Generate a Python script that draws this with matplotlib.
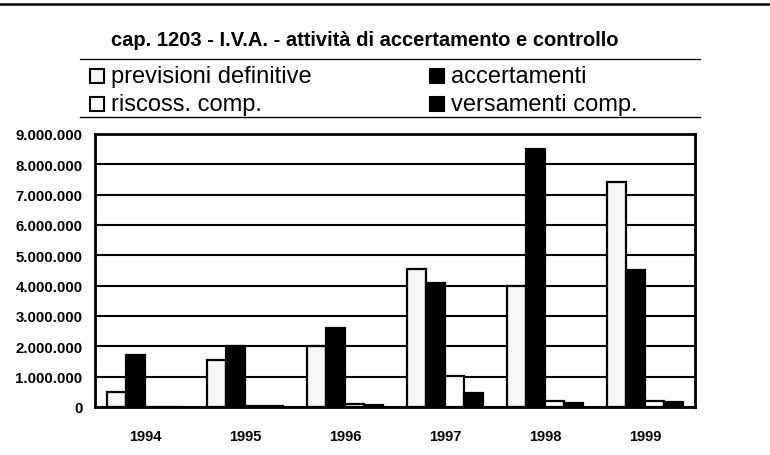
import matplotlib
matplotlib.use("Agg")
import matplotlib.pyplot as plt
from matplotlib.patches import Rectangle
from matplotlib.lines import Line2D
import numpy as np

plt.rcParams['font.family'] = ['Liberation Sans', 'DejaVu Sans']

# Data (values in lire/thousands, read as plain numbers)
years = ['1994', '1995', '1996', '1997', '1998', '1999']
previsioni_definitive = [500000, 1560000, 2000000, 4550000, 4000000, 7430000]
accertamenti = [1700000, 2020000, 2590000, 4080000, 8500000, 4530000]
riscoss_comp = [10000, 30000, 100000, 1030000, 200000, 200000]
versamenti_comp = [10000, 20000, 50000, 450000, 120000, 170000]

y_ticks = [0, 1000000, 2000000, 3000000, 4000000, 5000000, 6000000, 7000000, 8000000, 9000000]
y_tick_labels = ['0', '1.000.000', '2.000.000', '3.000.000', '4.000.000',
                 '5.000.000', '6.000.000', '7.000.000', '8.000.000', '9.000.000']

title = 'cap. 1203 - I.V.A. - attività di accertamento e controllo'
series_names = ['previsioni definitive', 'accertamenti', 'riscoss. comp.', 'versamenti comp.']

W, H = 770, 456
fig = plt.figure(figsize=(W / 100, H / 100), dpi=100)
fig.patch.set_facecolor('white')

ax = fig.add_axes([95 / W, (H - 408) / H, 600 / W, 273 / H])
ax.set_xlim(-0.5, len(years) - 0.5)
ax.set_ylim(0, 9000000)

x = np.arange(len(years))
w = 0.19
series = [previsioni_definitive, accertamenti, riscoss_comp, versamenti_comp]
faces = ['#f7f7f7', 'black', 'white', 'black']
offsets = [-1.5, -0.5, 0.5, 1.5]

for vals, fc, off in zip(series, faces, offsets):
    ax.bar(x + off * w, vals, width=w, color=fc, edgecolor='black',
           linewidth=1.6, zorder=3)

ax.set_yticks(y_ticks)
ax.set_yticklabels(y_tick_labels, fontsize=10.8, fontweight='bold')
ax.set_xticks(x)
ax.set_xticklabels(years, fontsize=10.5, fontweight='bold')
ax.tick_params(axis='x', length=0, pad=16)
ax.tick_params(axis='y', length=0, pad=9)
ax.yaxis.grid(True, color='black', linewidth=1.5, zorder=1)
ax.set_axisbelow(True)
for sp in ax.spines.values():
    sp.set_linewidth(2)
    sp.set_color('black')

# Title and separating rules
fig.text(365 / W, 1 - 40 / H, title, ha='center', va='center',
         fontsize=14.5, fontweight='bold')
fig.add_artist(Line2D([0, 1], [1 - 5 / H, 1 - 5 / H], color='black', linewidth=1.8,
                      transform=fig.transFigure))
fig.add_artist(Line2D([80 / W, 700 / W], [1 - 60 / H, 1 - 60 / H], color='black',
                      linewidth=0.9, transform=fig.transFigure))
fig.add_artist(Line2D([80 / W, 700 / W], [1 - 118 / H, 1 - 118 / H], color='black',
                      linewidth=1.0, transform=fig.transFigure))

# Legend, laid out in two columns
legend_pos = [(90, 77), (430, 77), (90, 105), (430, 105)]
legend_faces = ['#f7f7f7', 'black', 'white', 'black']
for name, (lx, ly), fc in zip(series_names, legend_pos, legend_faces):
    s = 14
    fig.add_artist(Rectangle((lx / W, 1 - (ly + s / 2) / H), s / W, s / H,
                             facecolor=fc, edgecolor='black', linewidth=1.5,
                             transform=fig.transFigure))
    fig.text((lx + s + 7) / W, 1 - ly / H, name, ha='left', va='center',
             fontsize=17)

fig.savefig('out.png', dpi=100, facecolor='white')
